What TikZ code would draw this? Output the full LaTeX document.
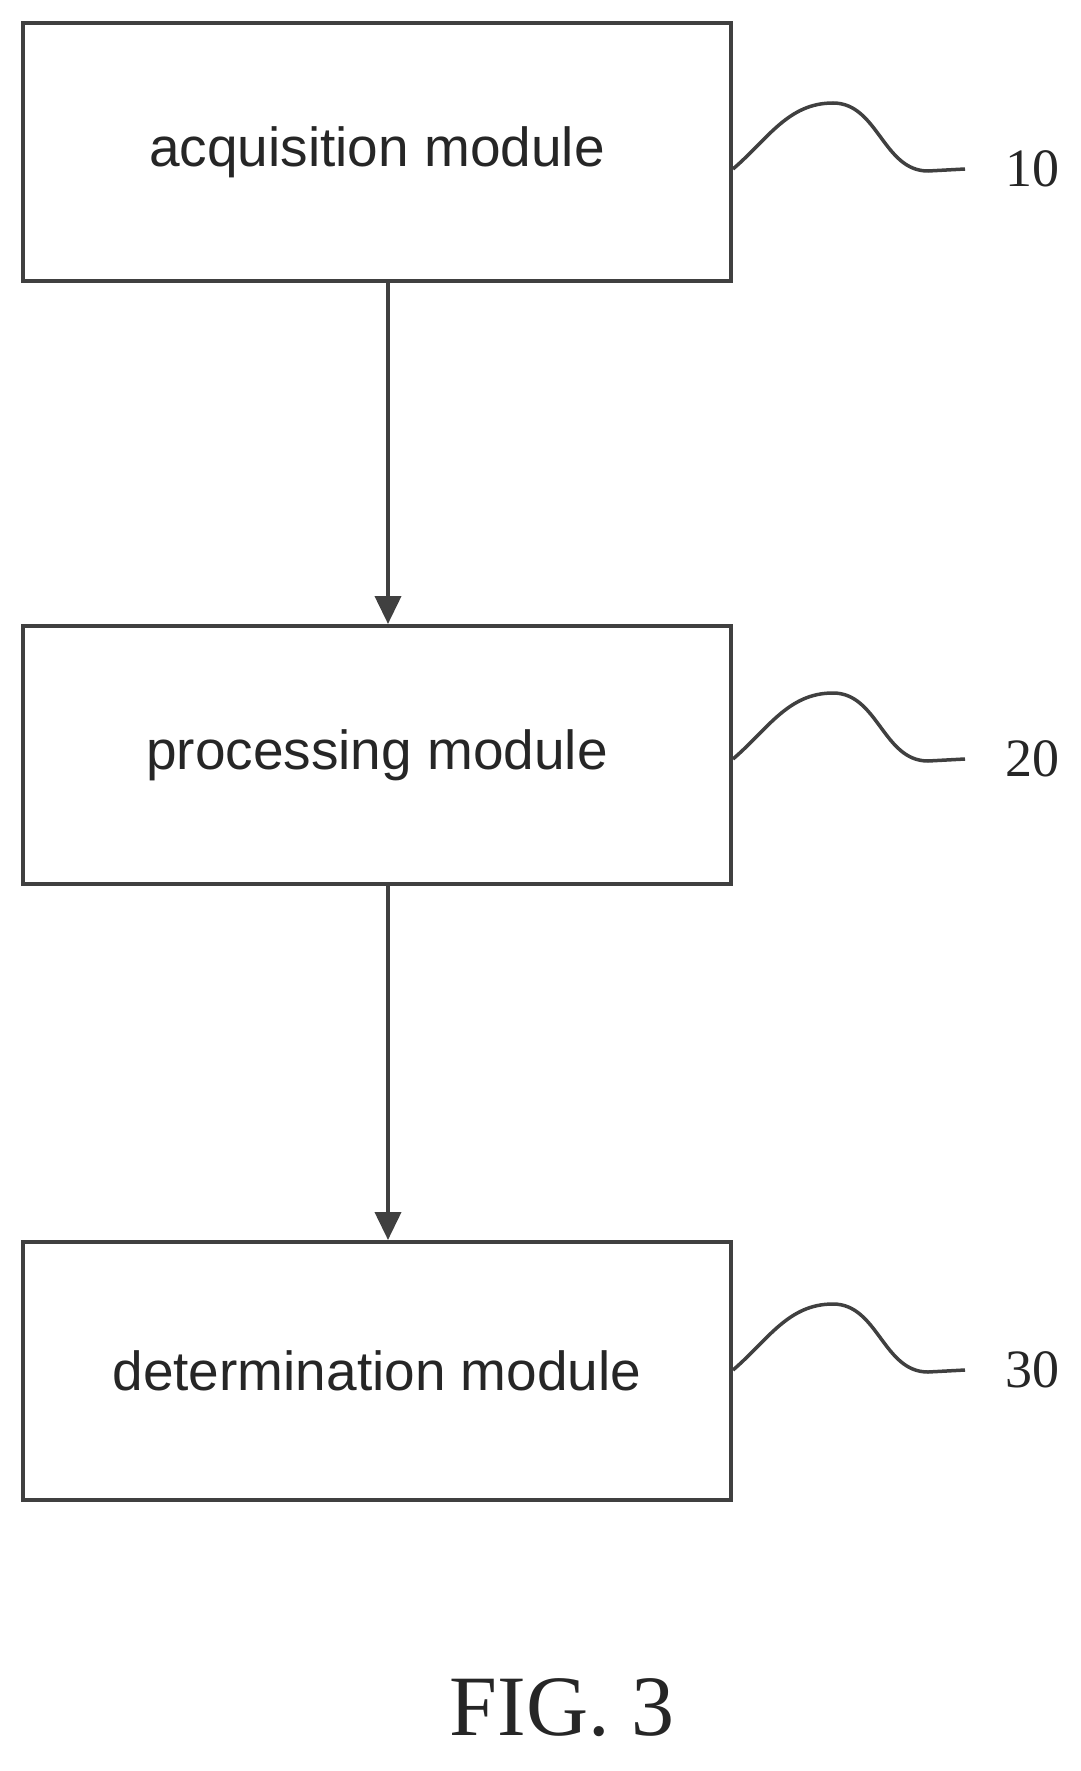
\documentclass[tikz,border=0pt]{standalone}
\usepackage{fontspec}
\setmainfont{Liberation Serif}
\setsansfont{Liberation Sans}
\usetikzlibrary{arrows.meta}
\begin{document}
\begin{tikzpicture}[x=1pt,y=-1pt,
  box/.style={draw=black!75,line width=4pt,minimum width=708pt,minimum height=258pt,font=\sffamily\fontsize{55}{60}\selectfont,text=black!85},
  arr/.style={draw=black!75,line width=4pt,-{Triangle[length=28pt,width=26pt]}},
  sq/.style={draw=black!75,line width=3.5pt},
  lab/.style={font=\fontsize{54}{58}\selectfont,text=black!85}]
\useasboundingbox (0,0) rectangle (1080,1771);
\node[box] (a) at (377,152) {acquisition module};
\node[box] (b) at (377,755) {processing module};
\node[box] (c) at (377,1371) {determination module};
\draw[arr] ([xshift=11pt]a.south) -- ([xshift=11pt]b.north);
\draw[arr] ([xshift=11pt]b.south) -- ([xshift=11pt]c.north);
\foreach \n/\t/\y in {a/10/169,b/20/759,c/30/1370}{
  \node[lab] (l\n) at (1032,\y) {\t};
  \coordinate (e\n) at (965,\y);
  \draw[sq] (\n.east |- 0,\y) .. controls +(35,-30) and +(-45,0) .. ++(100,-66) .. controls +(45,0) and +(-45,0) .. ++(95,68) -- (e\n);
}
\node[font=\fontsize{86}{90}\selectfont,text=black!85] (fig) at (562,1708) {FIG. 3};
\end{tikzpicture}
\end{document}
